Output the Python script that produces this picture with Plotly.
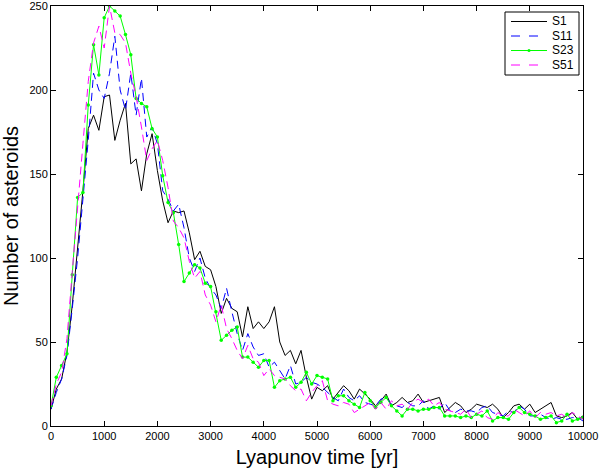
import plotly.graph_objects as go

step = 100
s1 = [10, 22, 28, 44, 72, 105, 140, 177, 185, 176, 196, 197, 170, 182, 192, 156, 159, 140, 162, 174,
      152, 134, 121, 128, 127, 128, 115, 99, 104, 95, 93, 83, 67, 76, 70, 68, 53, 71, 58, 62,
      58, 62, 71, 50, 42, 45, 37, 45, 29, 16, 23, 21, 24, 16, 20, 24, 21, 16, 22, 19,
      16, 12, 15, 19, 12, 14, 17, 14, 15, 19, 14, 15, 16, 17, 8, 11, 14, 12, 8, 10,
      13, 12, 11, 13, 10, 5, 8, 12, 13, 10, 13, 8, 10, 12, 14, 6, 5, 6, 8, 4, 6]
s11 = [10, 20, 28, 42, 70, 100, 135, 170, 210, 200, 195, 210, 232, 200, 188, 210, 185, 207, 172, 178,
       168, 140, 135, 128, 132, 118, 100, 92, 100, 88, 82, 78, 70, 82, 68, 55, 45, 55, 47, 42,
       43, 35, 38, 33, 28, 36, 25, 26, 29, 26, 25, 23, 20, 17, 15, 22, 17, 15, 18, 14,
       13, 12, 16, 17, 13, 12, 11, 14, 12, 12, 15, 10, 12, 10, 14, 9, 8, 10, 9, 9,
       8, 11, 12, 8, 7, 6, 9, 8, 12, 10, 6, 6, 7, 5, 4, 5, 4, 4, 5, 5, 3]
s23 = [12, 29, 36, 43, 90, 136, 139, 191, 227, 209, 243, 250, 247, 244, 233, 221, 195, 192, 190, 177,
       172, 149, 133, 127, 108, 86, 91, 96, 94, 85, 83, 68, 51, 54, 57, 59, 41, 41, 38, 35,
       39, 39, 23, 27, 28, 29, 23, 26, 32, 25, 30, 29, 28, 15, 18, 18, 15, 13, 11, 20,
       15, 11, 14, 17, 12, 9, 6, 10, 10, 9, 10, 10, 11, 11, 6, 6, 6, 5, 6, 5,
       7, 6, 9, 3, 5, 5, 4, 8, 11, 8, 7, 6, 4, 5, 6, 2, 3, 7, 3, 4, 5]
s51 = [12, 25, 32, 52, 92, 132, 168, 205, 228, 238, 225, 250, 234, 233, 228, 210, 196, 178, 158, 165,
       170, 158, 142, 122, 118, 112, 98, 88, 92, 78, 72, 62, 72, 58, 52, 45, 40, 48, 40, 38,
       30, 34, 30, 29, 28, 24, 21, 22, 15, 20, 24, 27, 15, 13, 12, 14, 13, 8, 10, 12,
       14, 10, 14, 10, 15, 12, 13, 10, 14, 16, 14, 16, 12, 14, 10, 9, 8, 7, 10, 5,
       7, 9, 5, 4, 8, 6, 6, 10, 8, 6, 9, 5, 8, 7, 8, 6, 7, 5, 8, 6, 4]

x_ticks = [0, 1000, 2000, 3000, 4000, 5000, 6000, 7000, 8000, 9000, 10000]
x_labels = ["0", "1000", "2000", "3000", "4000", "5000", "6000", "7000", "8000", "9000", "10000"]
y_ticks = [0, 50, 100, 150, 200, 250]
y_labels = ["0", "50", "100", "150", "200", "250"]
names = ["S1", "S11", "S23", "S51"]
colors = ["black", "#0000ff", "#00ff00", "#ff00ff"]
dashes = ["solid", "8px,5px", "solid", "8px,5px"]
series = [s1, s11, s23, s51]

W, H = 600, 469
L, R, T, B = 51, 17, 6, 43
PW, PH = W - L - R, H - T - B


def px(xp):
    return (xp - L) / PW


def py(yp):
    return (H - B - yp) / PH


def xs(vals):
    return [i * step for i in range(len(vals))]


fig = go.Figure()
for nm, col, dsh, vals in zip(names, colors, dashes, series):
    fig.add_trace(go.Scatter(
        x=xs(vals), y=vals, name=nm,
        mode="lines+markers" if nm == "S23" else "lines",
        line=dict(color=col, width=1, dash=dsh),
        marker=dict(color=col, size=3.5), showlegend=False))

font = "Liberation Sans, Arial, sans-serif"

# manual legend (MATLAB style)
shapes = [dict(type="rect", xref="paper", yref="paper",
               x0=px(505), x1=px(579), y0=py(75), y1=py(12),
               fillcolor="white", line=dict(color="black", width=1), layer="above")]
annotations = []
rows = [21.5, 36, 50.5, 65]
for nm, col, dsh, yr in zip(names, colors, dashes, rows):
    shapes.append(dict(type="line", xref="paper", yref="paper",
                       x0=px(511), x1=px(547), y0=py(yr), y1=py(yr),
                       line=dict(color=col, width=1, dash="dash" if dsh != "solid" else "solid"),
                       layer="above"))
    if nm == "S23":
        shapes.append(dict(type="circle", xref="paper", yref="paper",
                           x0=px(527.5), x1=px(530.5), y0=py(yr + 1.5), y1=py(yr - 1.5),
                           fillcolor=col, line=dict(color=col, width=0), layer="above"))
    annotations.append(dict(xref="paper", yref="paper", x=px(550), y=py(yr),
                            xanchor="left", yanchor="middle", text=nm, showarrow=False,
                            font=dict(size=12, family=font, color="black")))

fig.update_layout(
    width=W, height=H,
    margin=dict(l=L, r=R, t=T, b=B),
    paper_bgcolor="white", plot_bgcolor="white",
    font=dict(family=font, color="black", size=11),
    showlegend=False,
    shapes=shapes, annotations=annotations,
)
fig.update_xaxes(range=[0, 10000], tickvals=x_ticks, ticktext=x_labels,
                 ticks="inside", ticklen=5,
                 tickcolor="black", showline=True, linecolor="black", linewidth=1,
                 mirror="ticks", showgrid=False, zeroline=False,
                 ticklabeloverflow="allow",
                 tickfont=dict(size=11), title=dict(text="Lyapunov time [yr]",
                 font=dict(size=20), standoff=8), automargin=False)
fig.update_yaxes(range=[0, 250], tickvals=y_ticks, ticktext=y_labels,
                 ticks="inside", ticklen=5,
                 tickcolor="black", showline=True, linecolor="black", linewidth=1,
                 mirror="ticks", showgrid=False, zeroline=False,
                 ticklabeloverflow="allow",
                 tickfont=dict(size=11), title=dict(text="Number of asteroids",
                 font=dict(size=20), standoff=6), automargin=False)

fig.write_html("out.html", config={"displayModeBar": False},
               post_script="document.body.style.margin='0px';")
